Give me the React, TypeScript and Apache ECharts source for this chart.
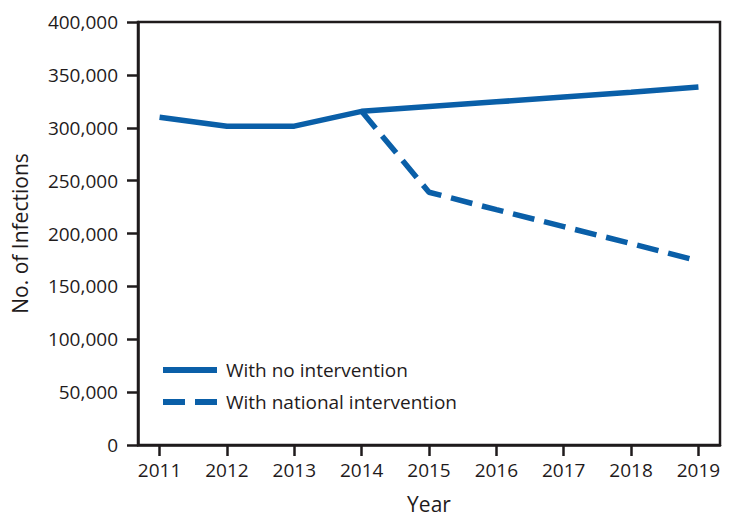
import React, { useEffect, useRef } from "react";
import * as echarts from "echarts";

const years = [2011, 2012, 2013, 2014, 2015, 2016, 2017, 2018, 2019];
const noIntervention = [310000, 301500, 301500, 315500, 320000, 324500, 329000, 333500, 338500];
const interventionYears = [2014, 2015, 2016, 2017, 2018, 2019];
const nationalIntervention = [315500, 239000, 222500, 206500, 190500, 174000];
const seriesNames = ["With no intervention", "With national intervention"];

const BLUE = "#0a5fa8";
const INK = "#1f1b1c";
const FONT = "'Open Sans', 'Noto Sans', sans-serif";

export default function App() {
  const ref = useRef<HTMLDivElement>(null);
  useEffect(() => {
    if (!ref.current) return;
    const chart = echarts.init(ref.current, null, { renderer: "svg" });
    chart.setOption({
      animation: false,
      backgroundColor: "#ffffff",
      textStyle: { fontFamily: FONT, color: INK },
      grid: {
        left: 138,
        right: 14,
        top: 22,
        bottom: 80,
        show: true,
        borderColor: INK,
        borderWidth: 2.5,
        backgroundColor: "transparent",
      },
      legend: {
        orient: "vertical",
        left: 158,
        top: 355,
        itemWidth: 54,
        itemHeight: 6,
        itemGap: 12,
        textStyle: { fontFamily: FONT, fontSize: 19, lineHeight: 20, color: INK, padding: [0, 0, 0, 4] },
        data: [
          { name: seriesNames[0], icon: "path://M0,0H54V6H0Z", itemStyle: { color: BLUE } },
          { name: seriesNames[1], icon: "path://M0,0H22V6H0Z M32,0H54V6H32Z", itemStyle: { color: BLUE } },
        ],
      },
      xAxis: {
        type: "value",
        min: 2010.68,
        max: 2019.32,
        name: "Year",
        nameLocation: "middle",
        nameGap: 48,
        nameTextStyle: { fontFamily: FONT, fontSize: 21, color: INK },
        axisLine: { show: true, lineStyle: { color: INK, width: 2.5 } },
        axisTick: { show: true, length: 11, customValues: years, lineStyle: { color: INK, width: 2.5 } },
        axisLabel: {
          customValues: years,
          fontFamily: FONT,
          fontSize: 19,
          color: INK,
          margin: 15,
          formatter: (v: number) => String(Math.round(v)),
        },
        splitLine: { show: false },
      },
      yAxis: {
        type: "value",
        min: 0,
        max: 400000,
        interval: 50000,
        name: "No. of Infections",
        nameLocation: "middle",
        nameGap: 108,
        nameTextStyle: { fontFamily: FONT, fontSize: 21, color: INK },
        axisLine: { show: true, lineStyle: { color: INK, width: 2.5 } },
        axisTick: { show: true, length: 11, lineStyle: { color: INK, width: 2.5 } },
        axisLabel: {
          fontFamily: FONT,
          fontSize: 19,
          color: INK,
          margin: 20,
          formatter: (v: number) => v.toLocaleString("en-US"),
        },
        splitLine: { show: false },
      },
      series: [
        {
          name: seriesNames[0],
          type: "line",
          data: years.map((y, i) => [y, noIntervention[i]]),
          showSymbol: false,
          symbol: "none",
          lineStyle: { color: BLUE, width: 5.5 },
          itemStyle: { color: BLUE },
          z: 3,
        },
        {
          name: seriesNames[1],
          type: "line",
          data: interventionYears.map((y, i) => [y, nationalIntervention[i]]),
          showSymbol: false,
          symbol: "none",
          lineStyle: { color: BLUE, width: 5.5, type: [22, 10] },
          itemStyle: { color: BLUE },
          z: 2,
        },
      ],
    });
    return () => chart.dispose();
  }, []);
  return <div ref={ref} style={{ position: "fixed", left: 0, top: 0, width: 734, height: 525 }} />;
}
